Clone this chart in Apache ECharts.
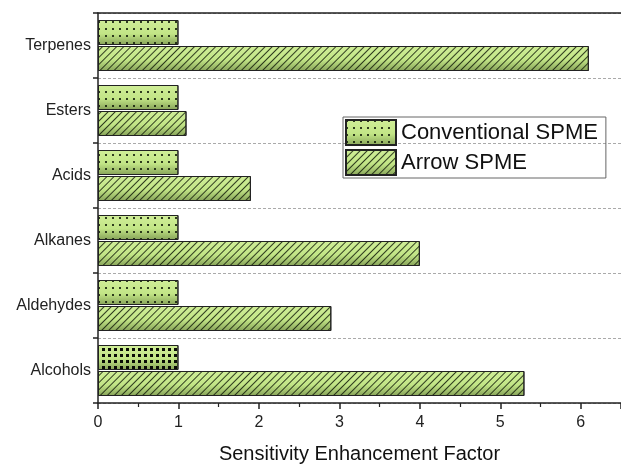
<!DOCTYPE html>
<html><head><meta charset="utf-8">
<script src="https://cdn.jsdelivr.net/npm/echarts@6/dist/echarts.min.js"></script>
<style>html,body{margin:0;padding:0;background:#fff}#c{width:621px;height:464px}</style>
</head><body><div id="c"></div>
<script>
const categories = ['Alcohols','Aldehydes','Alkanes','Acids','Esters','Terpenes'];
const conventionalValues = [1, 1, 1, 1, 1, 1];
const arrowValues = [5.3, 2.9, 4.0, 1.9, 1.1, 6.1];
const xTicks = [0, 1, 2, 3, 4, 5, 6];

const fill = {type:'linear', x:0, y:0, x2:0, y2:1, colorStops:[
  {offset:0, color:'#d0ee98'},{offset:0.55, color:'#c2e586'},{offset:1, color:'#86a258'}]};
const dotDecal = {symbol:'rect', symbolSize:1, color:'rgba(20,30,10,0.85)', dashArrayX:[1.5,4.5], dashArrayY:[1.5,4.5]};
const bigDotDecal = {symbol:'rect', symbolSize:1, color:'rgba(0,0,0,0.95)', dashArrayX:[3,3], dashArrayY:[3,2.6]};
const hatchDecal = {symbol:'rect', symbolSize:1, color:'rgba(20,30,10,0.85)', dashArrayX:[1,0], dashArrayY:[1,3.4], rotation:-Math.PI/4};
const font = 'Liberation Sans, Arial, sans-serif';

const chart = echarts.init(document.getElementById('c'), null, {renderer:'canvas'});
chart.setOption({
  animation:false,
  textStyle:{fontFamily:font},
  grid:{left:98, top:13, right:0, bottom:61, containLabel:false, outerBoundsMode:'none'},
  legend:{
    data:['Conventional SPME','Arrow SPME'],
    orient:'vertical', left:343, top:117, icon:'rect',
    itemWidth:50, itemHeight:25, itemGap:3,
    padding:[2,8,2,2], borderColor:'#666', borderWidth:1,
    textStyle:{fontSize:22, color:'#111', fontFamily:font}
  },
  xAxis:[{
    type:'value', min:0, max:6.5, interval:1, position:'bottom',
    name:'Sensitivity Enhancement Factor', nameLocation:'middle', nameGap:41,
    nameTextStyle:{fontSize:20, color:'#111'},
    axisLine:{show:true, lineStyle:{color:'#222', width:1.5}},
    axisTick:{show:true, inside:false, length:6, lineStyle:{color:'#222', width:1.5}},
    minorTick:{show:true, splitNumber:2, length:4, lineStyle:{color:'#222', width:1.2}},
    axisLabel:{fontSize:16, color:'#222', margin:12, showMaxLabel:false,
      formatter: v => xTicks.indexOf(v) >= 0 ? String(v) : ''},
    splitLine:{show:false}
  },{
    type:'value', min:0, max:6.5, position:'top',
    axisLine:{show:true, lineStyle:{color:'#222', width:1.5}},
    axisTick:{show:false}, axisLabel:{show:false}, splitLine:{show:false}
  }],
  yAxis:{
    type:'category', data:categories,
    axisLine:{show:true, lineStyle:{color:'#222', width:1.5}},
    axisTick:{show:true, length:5, lineStyle:{color:'#222', width:1.5}},
    axisLabel:{fontSize:16, color:'#222', margin:7},
    splitLine:{show:true, lineStyle:{color:'#aaa', type:[3,2], width:1}}
  },
  series:[{
    name:'Conventional SPME', type:'bar', barWidth:25, barGap:'4%',
    data:conventionalValues.map((v,i) => i === 0 ? {value:v, itemStyle:{decal:bigDotDecal}} : v),
    itemStyle:{color:fill, borderColor:'#222', borderWidth:1, decal:dotDecal}
  },{
    name:'Arrow SPME', type:'bar', data:arrowValues, barWidth:25, barGap:'4%',
    itemStyle:{color:fill, borderColor:'#222', borderWidth:1, decal:hatchDecal}
  }]
});
</script></body></html>
